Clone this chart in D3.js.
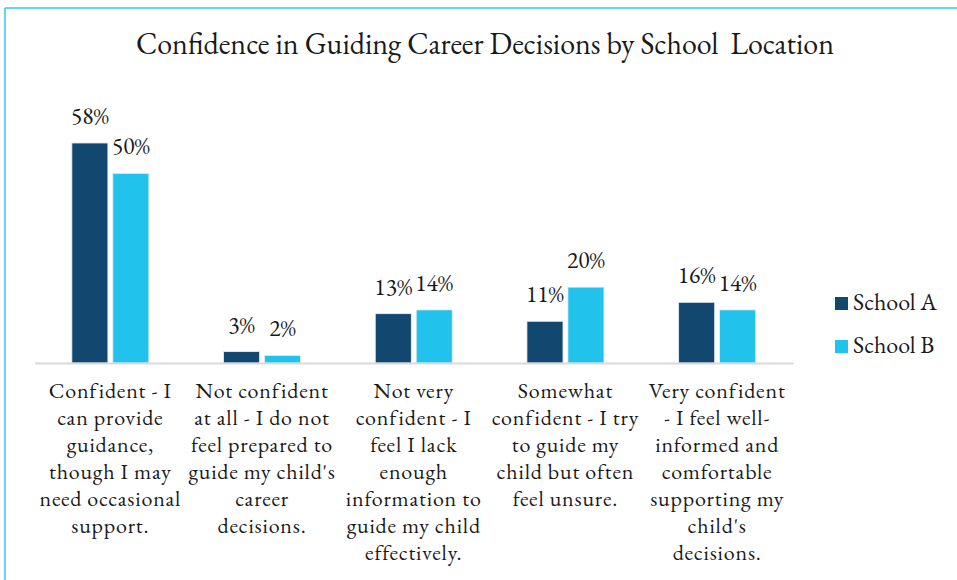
<!DOCTYPE html>
<html>
<head>
<meta charset="utf-8">
<script src="https://cdn.jsdelivr.net/npm/d3@7"></script>
<style>
  html, body { margin: 0; padding: 0; background: #ffffff; }
</style>
</head>
<body>
<svg id="chart" width="957" height="580"></svg>
<script>
// Survey responses: share of parents by confidence level, per school
const categories = [
  "Confident - I can provide guidance, though I may need occasional support.",
  "Not confident at all - I do not feel prepared to guide my child's career decisions.",
  "Not very confident - I feel I lack enough information to guide my child effectively.",
  "Somewhat confident - I try to guide my child but often feel unsure.",
  "Very confident - I feel well-informed and comfortable supporting my child's decisions."
];
// Line breaks used for the wrapped category labels
const categoryLines = [
  ["Confident - I", "can provide", "guidance,", "though I may", "need occasional", "support."],
  ["Not confident", "at all - I do not", "feel prepared to", "guide my child's", "career", "decisions."],
  ["Not very", "confident - I", "feel I lack", "enough", "information to", "guide my child", "effectively."],
  ["Somewhat", "confident - I try", "to guide my", "child but often", "feel unsure."],
  ["Very confident", "- I feel well-", "informed and", "comfortable", "supporting my", "child's", "decisions."]
];
const seriesNames = ["School A", "School B"];
const schoolA = [58, 3, 13, 11, 16];
const schoolB = [50, 2, 14, 20, 14];
const seriesColors = ["#124870", "#21C3EC"];

const FONT = "EB Garamond";
const INK = "#1a1a1a";

const svg = d3.select("#chart");

// Frame lines
svg.append("line").attr("x1", 5).attr("x2", 957).attr("y1", 8).attr("y2", 8)
  .attr("stroke", "#2ECBEF").attr("stroke-width", 1.5);
svg.append("line").attr("x1", 5).attr("x2", 5).attr("y1", 8).attr("y2", 580)
  .attr("stroke", "#2ECBEF").attr("stroke-width", 1.5);

// Title
svg.append("text")
  .attr("x", 485).attr("y", 54)
  .attr("text-anchor", "middle")
  .attr("font-family", FONT)
  .attr("font-size", 30)
  .attr("fill", INK)
  .attr("xml:space", "preserve")
  .style("white-space", "pre")
  .text("Confidence in Guiding Career Decisions by School  Location");

const plotLeft = 34.5, plotRight = 793, baseY = 363;

const x0 = d3.scaleBand().domain(d3.range(categories.length))
  .range([plotLeft, plotRight]).paddingInner(0).paddingOuter(0);
const x1 = d3.scaleBand().domain(seriesNames)
  .range([0, 77]).paddingInner(0.12).paddingOuter(0);
const y = d3.scaleLinear().domain([0, 58]).range([baseY, 143]);

const rows = categories.map((c, i) => ({ i, values: [schoolA[i], schoolB[i]] }));

const groups = svg.append("g").selectAll("g").data(rows).join("g")
  .attr("transform", d => `translate(${x0(d.i) + x0.bandwidth() / 2 - 38.5},0)`);

groups.selectAll("rect").data(d => d.values.map((v, k) => ({ v, k })))
  .join("rect")
  .attr("x", d => x1(seriesNames[d.k]))
  .attr("width", x1.bandwidth())
  .attr("y", d => y(d.v))
  .attr("height", d => baseY - y(d.v))
  .attr("fill", d => seriesColors[d.k])
  .attr("stroke", "#e6eef3").attr("stroke-width", 0.8);

groups.selectAll("text.val").data(d => d.values.map((v, k) => ({ v, k })))
  .join("text").attr("class", "val")
  .attr("x", d => x1(seriesNames[d.k]) + x1.bandwidth() / 2)
  .attr("y", d => y(d.v) - 19)
  .attr("text-anchor", "middle")
  .attr("font-family", FONT)
  .attr("font-size", 23.5)
  .attr("fill", INK)
  .text(d => d.v + "%");

// Category axis
const axis = svg.append("g").attr("transform", `translate(0,${baseY})`)
  .call(d3.axisBottom(x0).tickSize(0).tickFormat(""));
axis.select(".domain").attr("stroke", "#d9d9d9").attr("stroke-width", 2);

// Wrapped category labels, one text per line
const labelGroups = svg.append("g").selectAll("g").data(rows).join("g");
labelGroups.selectAll("text")
  .data(d => categoryLines[d.i].map((l, j) => ({ l, j, cx: x0(d.i) + x0.bandwidth() / 2 })))
  .join("text")
  .attr("x", d => d.cx)
  .attr("y", d => 398 + d.j * 27)
  .attr("text-anchor", "middle")
  .attr("font-family", FONT)
  .attr("font-size", 22)
  .attr("letter-spacing", 0.8)
  .attr("fill", INK)
  .text(d => d.l);

// Legend
const legend = svg.append("g").selectAll("g").data(seriesNames).join("g")
  .attr("transform", (d, k) => `translate(835,${297 + k * 43})`);
legend.append("rect").attr("width", 13).attr("height", 13)
  .attr("fill", (d, k) => seriesColors[k]);
legend.append("text").attr("x", 18).attr("y", 13)
  .attr("font-family", FONT)
  .attr("font-size", 24)
  .attr("fill", INK)
  .text(d => d);
</script>
</body>
</html>
